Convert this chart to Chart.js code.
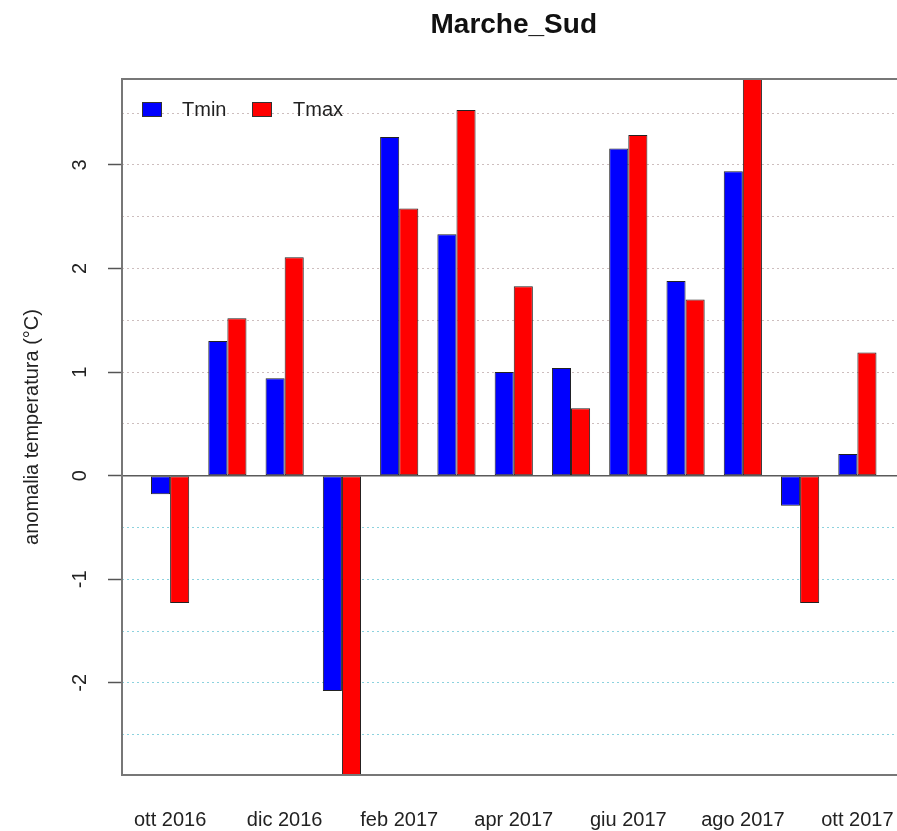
<!DOCTYPE html>
<html>
<head>
<meta charset="utf-8">
<script src="https://cdn.jsdelivr.net/npm/chart.js@4.4.0/dist/chart.umd.min.js"></script>
<style>
  html, body { margin: 0; background: #fff; overflow: hidden; }
  #wrap { width: 920px; height: 831px; }
  canvas { display: block; }
</style>
</head>
<body>
<div id="wrap"><canvas id="chart" width="920" height="831"></canvas></div>
<script>
const months = ['ott 2016', 'nov 2016', 'dic 2016', 'gen 2017', 'feb 2017', 'mar 2017', 'apr 2017',
                'mag 2017', 'giu 2017', 'lug 2017', 'ago 2017', 'set 2017', 'ott 2017'];
const tmin = [-0.18, 1.30, 0.94, -2.08, 3.27, 2.33, 1.00, 1.04, 3.16, 1.88, 2.94, -0.29, 0.21];
const tmax = [-1.23, 1.52, 2.11, -2.95, 2.58, 3.53, 1.83, 0.65, 3.29, 1.70, 3.90, -1.23, 1.19];
const yLabels = [-2, -1, 0, 1, 2, 3];
const gridValues = [-2.5, -2, -1.5, -1, -0.5, 0, 0.5, 1, 1.5, 2, 2.5, 3, 3.5];

const FONT = '"Liberation Sans", Arial, sans-serif';

// box, zero line, rotated y labels and legend, drawn on top like base R does
const rFrame = {
    id: 'rFrame',
    afterDraw(chart) {
        const ctx = chart.ctx;
        const ca = chart.chartArea;
        const y = chart.scales.y;
        ctx.save();

        const y0 = y.getPixelForValue(0);
        ctx.strokeStyle = '#5a5a5a';
        ctx.lineWidth = 1.5;
        ctx.beginPath();
        ctx.moveTo(ca.left, y0);
        ctx.lineTo(ca.right, y0);
        ctx.stroke();

        ctx.strokeStyle = '#777';
        ctx.lineWidth = 2;
        ctx.strokeRect(ca.left, ca.top, ca.right - ca.left, ca.bottom - ca.top);

        ctx.fillStyle = '#222';
        ctx.font = '20px ' + FONT;
        ctx.textAlign = 'center';
        ctx.textBaseline = 'middle';
        yLabels.forEach(v => {
            ctx.save();
            ctx.translate(80, y.getPixelForValue(v));
            ctx.rotate(-Math.PI / 2);
            ctx.fillText(String(v), 0, 0);
            ctx.restore();
        });

        // legend
        const items = [[20, 60], [130, 171]];
        ctx.textAlign = 'left';
        chart.data.datasets.forEach((ds, i) => {
            const bx = ca.left + items[i][0];
            const by = ca.top + 23;
            ctx.fillStyle = ds.backgroundColor;
            ctx.fillRect(bx, by, 20, 15);
            ctx.strokeStyle = '#333';
            ctx.lineWidth = 1;
            ctx.strokeRect(bx + 0.5, by + 0.5, 19, 14);
            ctx.fillStyle = '#222';
            ctx.fillText(ds.label, ca.left + items[i][1], by + 8);
        });
        ctx.restore();
    }
};

new Chart(document.getElementById('chart'), {
    type: 'bar',
    data: {
        datasets: [{
            label: 'Tmin',
            data: tmin.map((v, i) => ({x: i, y: v})),
            backgroundColor: '#0000ff',
            borderColor: '#222',
            borderWidth: 1,
            borderSkipped: false
        }, {
            label: 'Tmax',
            data: tmax.map((v, i) => ({x: i, y: v})),
            backgroundColor: '#ff0000',
            borderColor: '#222',
            borderWidth: 1,
            borderSkipped: false
        }]
    },
    options: {
        responsive: false,
        animation: false,
        categoryPercentage: 2 / 3,
        barPercentage: 1,
        layout: { padding: { left: 0, right: 14.5, top: 0, bottom: 0 } },
        scales: {
            x: {
                type: 'linear',
                min: -0.84,
                max: 12.84,
                offset: false,
                grid: { display: false },
                border: { display: false },
                afterBuildTicks: s => {
                    s.ticks = months.map((m, i) => i).filter(i => i % 2 === 0).map(v => ({value: v}));
                },
                afterFit: s => { s.height = 56; },
                ticks: {
                    autoSkip: false,
                    maxRotation: 0,
                    padding: 25,
                    color: '#222',
                    font: { family: FONT, size: 20 },
                    callback: v => months[v] || ''
                }
            },
            y: {
                min: -2.89,
                max: 3.83,
                z: 1,
                border: { display: false, dash: [2, 3] },
                afterBuildTicks: s => { s.ticks = gridValues.map(v => ({value: v})); },
                afterFit: s => { s.width = 122; },
                grid: {
                    color: c => c.tick.value === 0 ? 'rgba(0,0,0,0)'
                        : (c.tick.value < 0 ? 'rgb(140,210,222)' : 'rgb(205,190,190)'),
                    lineWidth: 1,
                    tickLength: 14,
                    tickWidth: 1.5,
                    tickBorderDash: [],
                    tickColor: c => Number.isInteger(c.tick.value) ? '#555' : 'rgba(0,0,0,0)'
                },
                ticks: { display: false },
                title: {
                    display: true,
                    text: 'anomalia temperatura (°C)',
                    color: '#222',
                    font: { family: FONT, size: 20 },
                    padding: { top: 20, bottom: 0 }
                }
            }
        },
        plugins: {
            legend: { display: false },
            tooltip: { enabled: false },
            title: {
                display: true,
                text: 'Marche_Sud',
                fullSize: false,
                color: '#111',
                font: { family: FONT, size: 28, weight: 'bold', lineHeight: 1.2 },
                padding: { top: 8, bottom: 37.4 }
            }
        }
    },
    plugins: [rFrame]
});
</script>
</body>
</html>
